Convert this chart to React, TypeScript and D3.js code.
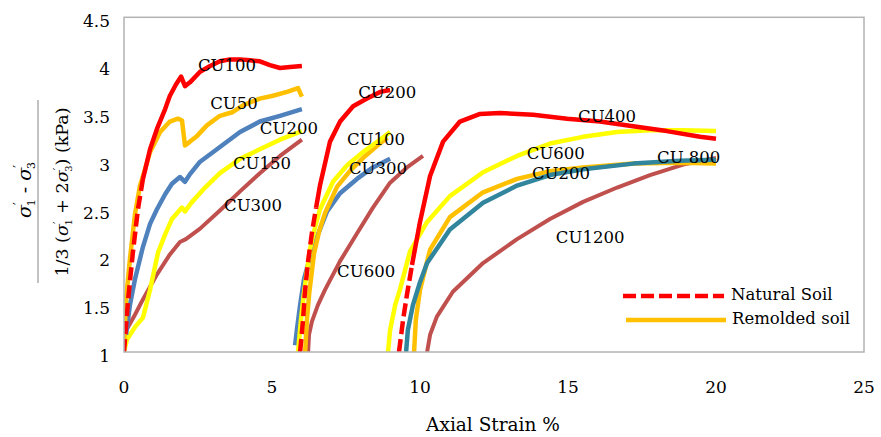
import React from 'react';
import * as d3 from 'd3';

type Pt = [number, number];

const xTicks = [0, 5, 10, 15, 20, 25];
const yTicks = [1, 1.5, 2, 2.5, 3, 3.5, 4, 4.5];

// first set of tests (strain measured from 0 %)
const natCU100: Pt[] = [
  [0, 1.0], [0.14, 1.55], [0.3, 2.04], [0.47, 2.49], [0.64, 2.81], [0.88, 3.12],
  [1.11, 3.33], [1.39, 3.54], [1.55, 3.68], [1.76, 3.8], [1.93, 3.88], [2.06, 3.78],
  [2.23, 3.82], [2.57, 3.93], [2.91, 3.99], [3.24, 4.04], [3.58, 4.06], [3.92, 4.06],
  [4.26, 4.05], [4.59, 4.04], [4.93, 4.0], [5.27, 3.97], [5.61, 3.98], [6.01, 3.99],
];
const remCU50: Pt[] = [
  [0, 1.07], [0.07, 1.55], [0.2, 1.97], [0.37, 2.44], [0.54, 2.74], [0.71, 2.91],
  [0.88, 3.09], [1.22, 3.3], [1.55, 3.41], [1.82, 3.44], [1.96, 3.42], [2.06, 3.16],
  [2.23, 3.2], [2.47, 3.26], [2.8, 3.37], [3.24, 3.47], [3.68, 3.51], [4.02, 3.58],
  [4.59, 3.65], [5.03, 3.68], [5.51, 3.72], [5.88, 3.76], [6.01, 3.67],
];
const remCU200a: Pt[] = [
  [0.07, 1.18], [0.2, 1.49], [0.37, 1.76], [0.64, 2.1], [0.88, 2.34], [1.11, 2.49],
  [1.39, 2.65], [1.62, 2.76], [1.89, 2.83], [2.06, 2.78], [2.23, 2.86], [2.57, 2.99],
  [3.14, 3.12], [3.92, 3.3], [4.59, 3.41], [5.27, 3.47], [6.01, 3.54],
];
const remCU150: Pt[] = [
  [0, 1.0], [0.1, 1.13], [0.37, 1.26], [0.64, 1.36], [0.88, 1.65], [1.15, 2.04],
  [1.39, 2.23], [1.62, 2.39], [1.96, 2.51], [2.06, 2.47], [2.3, 2.57], [2.74, 2.72],
  [3.24, 2.87], [3.92, 3.02], [4.59, 3.12], [5.27, 3.22], [6.01, 3.31],
];
const remCU300a: Pt[] = [
  [0, 1.05], [0.03, 1.2], [0.37, 1.39], [0.64, 1.55], [1.11, 1.81], [1.55, 2.02],
  [1.89, 2.15], [2.09, 2.18], [2.57, 2.29], [3.24, 2.48], [3.92, 2.68], [4.59, 2.87],
  [5.27, 3.05], [6.01, 3.22],
];

// second set (shifted to about 6 %)
const natCU200: Pt[] = [
  [5.95, 1.0], [6.05, 1.34], [6.11, 1.62], [6.22, 1.95], [6.35, 2.25], [6.49, 2.51],
  [6.62, 2.74], [6.79, 2.97], [6.96, 3.2], [7.3, 3.41], [7.74, 3.57], [8.21, 3.65],
  [8.65, 3.72], [8.99, 3.74],
];
const remCU100: Pt[] = [
  [5.88, 1.0], [5.98, 1.34], [6.08, 1.62], [6.28, 2.07], [6.45, 2.3], [6.62, 2.49],
  [7.06, 2.78], [7.53, 2.95], [8.07, 3.09], [8.65, 3.22], [8.99, 3.3],
];
const remCU100b: Pt[] = [
  [6.12, 1.0], [6.18, 1.34], [6.26, 1.62], [6.42, 2.03], [6.6, 2.27], [6.8, 2.46],
  [7.2, 2.73], [7.65, 2.9], [8.15, 3.05], [8.6, 3.17], [8.9, 3.24],
];
const remCU300b: Pt[] = [
  [5.78, 1.07], [5.84, 1.23], [5.95, 1.49], [6.08, 1.76], [6.28, 1.99], [6.49, 2.18],
  [6.86, 2.47], [7.3, 2.66], [7.87, 2.81], [8.41, 2.93], [8.99, 3.02],
];
const remCU600a: Pt[] = [
  [6.22, 1.0], [6.25, 1.18], [6.35, 1.32], [6.55, 1.49], [6.79, 1.65], [7.3, 1.95],
  [7.87, 2.24], [8.41, 2.51], [8.99, 2.77], [9.56, 2.93], [10.1, 3.05],
];

// third set (shifted to about 9-10 %)
const natCU400: Pt[] = [
  [9.29, 1.0], [9.43, 1.34], [9.56, 1.6], [9.73, 1.91], [10.0, 2.36], [10.34, 2.84],
  [10.78, 3.2], [11.35, 3.41], [12.03, 3.49], [12.7, 3.5], [13.82, 3.48], [14.97, 3.44],
  [16.08, 3.41], [17.2, 3.36], [18.34, 3.31], [19.46, 3.25], [20.0, 3.23],
];
const remCU600b: Pt[] = [
  [8.92, 1.0], [8.99, 1.23], [9.16, 1.49], [9.32, 1.65], [9.66, 2.05], [10.24, 2.36],
  [11.01, 2.63], [12.13, 2.88], [13.28, 3.05], [14.39, 3.18], [15.51, 3.25], [16.66, 3.3],
  [17.77, 3.32], [18.89, 3.32], [20.0, 3.31],
];
const remCU200b: Pt[] = [
  [9.8, 1.0], [9.86, 1.34], [10.0, 1.65], [10.34, 2.07], [11.01, 2.41], [12.13, 2.67],
  [13.28, 2.81], [14.39, 2.89], [15.51, 2.93], [17.2, 2.97], [18.78, 2.98], [20.0, 2.97],
];
const remCU800: Pt[] = [
  [9.53, 1.0], [9.59, 1.23], [9.76, 1.49], [10.0, 1.73], [10.24, 1.93], [11.01, 2.28],
  [12.13, 2.56], [13.28, 2.74], [14.39, 2.85], [15.51, 2.91], [17.2, 2.97], [18.78, 3.0],
  [20.0, 3.01],
];
const remCU1200: Pt[] = [
  [10.24, 1.0], [10.34, 1.18], [10.57, 1.37], [11.11, 1.63], [12.13, 1.93], [13.28, 2.18],
  [14.39, 2.39], [15.51, 2.57], [16.66, 2.72], [17.77, 2.85], [18.89, 2.96], [20.0, 3.03],
];

const curveLabels: { text: string; x: number; y: number }[] = [
  { text: 'CU100', x: 2.5, y: 4.0 },
  { text: 'CU50', x: 2.91, y: 3.6 },
  { text: 'CU200', x: 4.59, y: 3.34 },
  { text: 'CU150', x: 3.68, y: 2.97 },
  { text: 'CU300', x: 3.38, y: 2.53 },
  { text: 'CU200', x: 7.91, y: 3.72 },
  { text: 'CU100', x: 7.53, y: 3.23 },
  { text: 'CU300', x: 7.6, y: 2.92 },
  { text: 'CU600', x: 7.2, y: 1.84 },
  { text: 'CU400', x: 15.34, y: 3.47 },
  { text: 'CU600', x: 13.61, y: 3.08 },
  { text: 'CU200', x: 13.78, y: 2.87 },
  { text: 'CU1200', x: 14.59, y: 2.2 },
  { text: 'CU 800', x: 18.01, y: 3.04 },
];

const RED = '#ff0000';
const ORANGE = '#ffc000';
const BLUE = '#4f81bd';
const YELLOW = '#ffff00';
const BROWN = '#c0504d';
const TEAL = '#31859c';

// drawing order; red (natural soil) curves are dashed on their steep part
const curves: { data: Pt[]; color: string; dashTo?: number }[] = [
  { data: remCU300a, color: BROWN },
  { data: remCU150, color: YELLOW },
  { data: remCU200a, color: BLUE },
  { data: remCU50, color: ORANGE },
  { data: natCU100, color: RED, dashTo: 2.8 },
  { data: remCU600a, color: BROWN },
  { data: remCU300b, color: BLUE },
  { data: remCU100b, color: ORANGE },
  { data: remCU100, color: YELLOW },
  { data: natCU200, color: RED, dashTo: 2.3 },
  { data: remCU1200, color: BROWN },
  { data: remCU200b, color: ORANGE },
  { data: remCU800, color: TEAL },
  { data: remCU600b, color: YELLOW },
  { data: natCU400, color: RED, dashTo: 1.75 },
];

const W = 881;
const H = 437;
const left = 124;
const right = 864;
const top = 17.3;
const bottom = 352;
const FONT = '"DejaVu Serif", Georgia, serif';

export default function App() {
  const x = d3.scaleLinear().domain([0, 25]).range([left, right]);
  const y = d3.scaleLinear().domain([1, 4.5]).range([bottom, top]);
  const line = d3.line<Pt>().x(d => x(d[0])).y(d => y(d[1]));

  const paths: JSX.Element[] = [];
  curves.forEach((c, i) => {
    if (c.dashTo) {
      const k = c.data.findIndex(d => d[1] > c.dashTo!);
      const lo = c.data.slice(0, k + 1);
      const hi = c.data.slice(k);
      paths.push(<path key={i + 'a'} d={line(lo) || ''} fill="none" stroke={c.color}
        strokeWidth={4.5} strokeDasharray="13,5" />);
      paths.push(<path key={i + 'b'} d={line(hi) || ''} fill="none" stroke={c.color}
        strokeWidth={4.5} strokeLinejoin="round" />);
    } else {
      paths.push(<path key={i} d={line(c.data) || ''} fill="none" stroke={c.color}
        strokeWidth={c.color === BROWN ? 4 : 4.5} strokeLinejoin="round" />);
    }
  });

  return (
    <svg width={W} height={H} style={{ position: 'absolute', left: 0, top: 0, background: '#fff' }}
      fontFamily={FONT}>
      <defs>
        <clipPath id="plot">
          <rect x={left} y={top} width={right - left} height={bottom - top} />
        </clipPath>
      </defs>
      <g clipPath="url(#plot)">{paths}</g>
      <rect x={left} y={top} width={right - left} height={bottom - top} fill="none"
        stroke="#b3b3b3" strokeWidth={1.5} />

      {yTicks.map(t => (
        <text key={t} x={110} y={y(t) + 4} dy="0.35em" textAnchor="end" fontSize={17}>
          {t === 1 || t === 2 || t === 3 || t === 4 ? t : t.toFixed(1)}
        </text>
      ))}
      {xTicks.map(t => (
        <text key={t} x={x(t)} y={387} dy="0.35em" textAnchor="middle" fontSize={17}>{t}</text>
      ))}
      <text x={493} y={425} dy="0.35em" textAnchor="middle" fontSize={18.5}>Axial Strain %</text>

      {curveLabels.map((l, i) => (
        <text key={i} x={x(l.x)} y={y(l.y)} dy="0.35em" fontSize={16.5}>{l.text}</text>
      ))}

      {/* y axis title as a fraction */}
      <g transform="translate(31,190) rotate(-90)">
        <text textAnchor="middle" fontSize={19}>
          <tspan fontStyle="italic">σ</tspan>
          <tspan fontSize={12} dy={-8} dx={0}>′</tspan>
          <tspan fontSize={11} dy={12} dx={-4}>1</tspan>
          <tspan dy={-4}> - </tspan>
          <tspan fontStyle="italic">σ</tspan>
          <tspan fontSize={12} dy={-8} dx={0}>′</tspan>
          <tspan fontSize={11} dy={12} dx={-4}>3</tspan>
        </text>
      </g>
      <line x1={38} x2={38} y1={100} y2={283} stroke="#999" strokeWidth={1.2} />
      <g transform="translate(68,192) rotate(-90)">
        <text textAnchor="middle" fontSize={17.5}>
          <tspan>1/3 (</tspan>
          <tspan fontStyle="italic">σ</tspan>
          <tspan fontSize={11} dy={-7} dx={0}>′</tspan>
          <tspan fontSize={10} dy={11} dx={-4}>1</tspan>
          <tspan dy={-4}> + 2</tspan>
          <tspan fontStyle="italic">σ</tspan>
          <tspan fontSize={11} dy={-7} dx={0}>′</tspan>
          <tspan fontSize={10} dy={11} dx={-4}>3</tspan>
          <tspan dy={-4}>) (kPa)</tspan>
        </text>
      </g>

      {/* legend */}
      <line x1={623} x2={724} y1={296} y2={296} stroke={RED} strokeWidth={4.5} strokeDasharray="13,5" />
      <text x={731} y={294} dy="0.35em" fontSize={16.5}>Natural Soil</text>
      <line x1={626} x2={726} y1={320} y2={320} stroke={ORANGE} strokeWidth={4.5} />
      <text x={732} y={318} dy="0.35em" fontSize={16.5}>Remolded soil</text>
    </svg>
  );
}
